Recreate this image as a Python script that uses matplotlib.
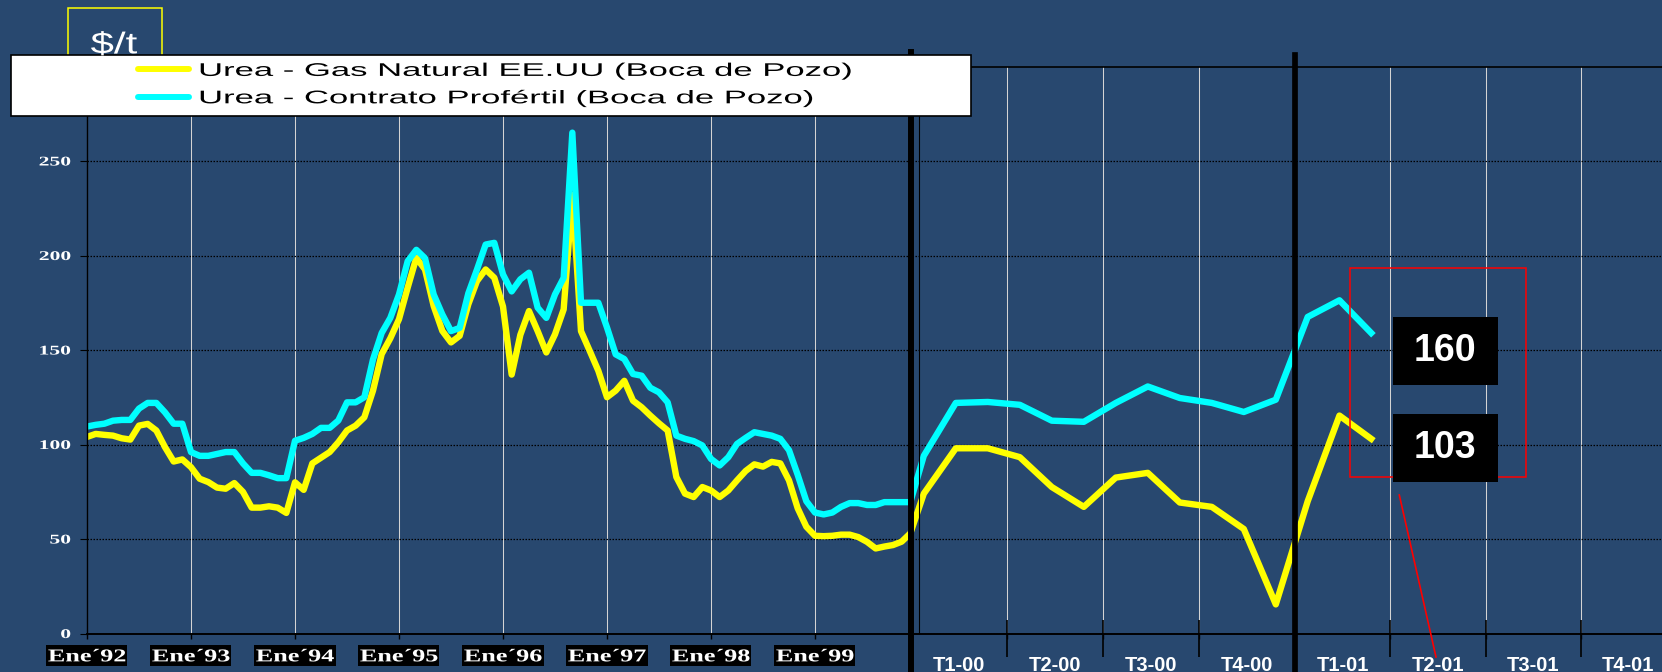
import numpy as np
import matplotlib
matplotlib.use("Agg")
import matplotlib.pyplot as plt
from matplotlib.patches import Rectangle
from matplotlib.patheffects import AbstractPathEffect
from matplotlib.transforms import Affine2D
from matplotlib.path import Path

W, H = 1662, 672

# monthly prices, $/t -- Ene'92 .. Dic'99
cyan_92_99 = [
    109.5, 110.4, 111, 112.6, 113, 113, 119, 122, 122, 117, 111, 111,
    96, 94, 94, 95, 96, 96, 90, 85, 85, 83.7, 82.2, 82.2,
    102, 103.5, 105.6, 108.8, 108.8, 112.7, 122.3, 122.3, 125, 145, 159, 167,
    179.4, 197, 203, 198.6, 179.4, 168.8, 160, 161.7, 180, 192.6, 205.8, 206.7,
    190, 181, 187.4, 190.9, 172.4, 167, 179.4, 188.2, 265, 175, 175, 175,
    161.9, 147.7, 145.2, 137.3, 136.4, 130, 127.6, 122.3, 104.7, 103, 101.8, 99.5,
    92.4, 88.9, 93.3, 100.3, 103.5, 106.5, 105.6, 104.7, 103, 97, 84, 70,
    64, 63, 64, 67, 69, 69, 68, 68, 69.5, 69.5, 69.5, 69.5]
yellow_92_99 = [
    104, 105.6, 105.1, 104.7, 103.3, 102.6, 110, 110.9, 107.4, 98.6, 91, 92.1,
    88, 81.9, 80.1, 77.2, 76.6, 79.6, 74.9, 66.6, 66.6, 67.3, 66.6, 63.8,
    80, 76, 90, 93, 96, 101.2, 107.4, 110, 114.4, 128.5, 147.8, 156.2,
    166.3, 183, 198.8, 192.6, 173.3, 160.1, 154, 157.5, 174.2, 186.5, 192.6, 188.2,
    173, 137, 158, 170.6, 160, 148.7, 158.3, 171.5, 232, 160, 149.6, 139,
    125, 128.5, 133.7, 123.2, 119.7, 115.3, 111.2, 107.4, 82.8, 74, 72.2, 77.5,
    75.7, 72.2, 75.7, 81, 86, 89.5, 88.3, 90.8, 90, 81, 66.3, 56.5,
    51.7, 51.5, 51.7, 52.3, 52.3, 51, 48.5, 45, 46, 46.8, 48.6, 53]

# 2000 and 2001, monthly
cyan_00 = [94, 122, 122.5, 121, 112.6, 112, 122, 130.7, 124.6, 122, 117.2, 123.7]
yellow_00 = [74, 98, 98, 93.3, 77.5, 67, 82.5, 85, 69.3, 67, 55.3, 15.4]
cyan_01 = [167.5, 176.3, 159]
yellow_01 = [70, 115.3, 103]

year_labels = ["Ene´92", "Ene´93", "Ene´94", "Ene´95",
               "Ene´96", "Ene´97", "Ene´98", "Ene´99"]
quarter_labels = ["T1-00", "T2-00", "T3-00", "T4-00",
                  "T1-01", "T2-01", "T3-01", "T4-01"]
last_labels = ["160", "103"]
legend_labels = ["Urea - Gas Natural EE.UU (Boca de Pozo)",
                 "Urea - Contrato Profértil (Boca de Pozo)"]

YELLOW = "#ffff00"
CYAN = "#00ffff"
BG = "#28486f"

plt.rcParams["font.family"] = ["Liberation Sans", "DejaVu Sans"]


class Stretch(AbstractPathEffect):
    # the slide text is stretched sideways, widen the glyphs the same way
    def __init__(self, sx, anchor="center", box=None, pad=(2, 4.3)):
        super().__init__()
        self.sx, self.anchor, self.box, self.pad = sx, anchor, box, pad

    def draw_path(self, renderer, gc, tpath, affine, rgbFace=None):
        bb = tpath.get_extents(affine)
        ox = {"left": bb.x0, "right": bb.x1,
              "center": (bb.x0 + bb.x1) / 2}[self.anchor]
        tr = affine + Affine2D().translate(-ox, 0).scale(self.sx, 1).translate(ox, 0)
        if self.box is not None:
            b2 = tpath.get_extents(tr)
            px, py = self.pad
            rt = Affine2D().scale(b2.width + 2 * px, b2.height + 2 * py) \
                .translate(b2.x0 - px, b2.y0 - py)
            gc0 = renderer.new_gc()
            gc0.copy_properties(gc)
            gc0.set_linewidth(0)
            renderer.draw_path(gc0, Path.unit_rectangle(), rt, self.box)
            gc0.restore()
        renderer.draw_path(gc, tpath, tr, rgbFace)


# x in months from Ene'92; each period gets its own width on the slide
brk_m = [-120, 0, 95, 96, 108, 120, 240]
brk_px = [87 - 120 * 104 / 12, 87, 87 + 95 * 104 / 12, 911, 1295, 1676,
          1676 + 120 * 381 / 12]


def fwd(m):
    return np.interp(m, brk_m, brk_px)


def inv(p):
    return np.interp(p, brk_px, brk_m)


x = np.concatenate([np.arange(len(cyan_92_99)),
                    96 + np.arange(len(cyan_00)) + 0.4,
                    108 + np.arange(len(cyan_01)) + 0.4])
cyan = np.concatenate([cyan_92_99, cyan_00, cyan_01])
yellow = np.concatenate([yellow_92_99, yellow_00, yellow_01])

fig = plt.figure(figsize=(W / 100, H / 100), dpi=100)
fig.patch.set_facecolor(BG)

ax = fig.add_axes([87 / W, (H - 633.5) / H, (W - 87) / W, 567 / H])
ax.set_facecolor("none")
ax.set_xscale("function", functions=(fwd, inv))
ax.set_xlim(0, inv(W))
ax.set_ylim(0, 300)

ax.plot(x, yellow, color=YELLOW, lw=4.6, zorder=2)
ax.plot(x, cyan, color=CYAN, lw=4.6, zorder=2.1)

# axes frame
ax.spines["right"].set_visible(False)
ax.spines["left"].set_linewidth(1)
ax.spines["bottom"].set_linewidth(1.4)
ax.spines["top"].set_linewidth(1.2)
for s in ax.spines.values():
    s.set_color("black")

# y axis
ax.set_yticks(np.arange(0, 251, 50))
ax.tick_params(axis="y", length=5, width=0.8, color="black", pad=6.7,
               labelsize=9.6, labelcolor="white")
for lab in ax.get_yticklabels():
    lab.set_fontfamily(["Liberation Serif", "DejaVu Serif"])
    lab.set_fontweight("bold")
    lab.set_path_effects([Stretch(1.62, "right")])
ax.yaxis.grid(True, color="black", lw=0.9, linestyle=(0, (1.2, 1.2)))

# x axis: years, then quarters
year_ticks = 12 * np.arange(len(year_labels))
q_bounds = np.array([99, 102, 105, 111, 114, 117])
q_centers = 96 + 1.5 + 3 * np.arange(len(quarter_labels))
ax.set_xticks(np.concatenate([year_ticks, q_bounds]),
              year_labels + [""] * len(q_bounds))
ax.set_xticks(q_centers, quarter_labels, minor=True)
ax.tick_params(axis="x", which="major", length=3.5, width=1, color="black",
               pad=7.2, labelsize=13, labelcolor="white")
ax.tick_params(axis="x", which="minor", length=0, pad=16.2,
               labelsize=14.5, labelcolor="white")
for lab in ax.get_xticklabels():
    lab.set_fontfamily(["Liberation Serif", "DejaVu Serif"])
    lab.set_fontweight("bold")
    lab.set_path_effects([Stretch(1.45, "center", box=(0, 0, 0))])
for lab in ax.get_xticklabels(minor=True):
    lab.set_fontweight("bold")
ax.xaxis.grid(True, which="major", color="#d4d4d4", lw=0.75)

# long quarter marks and the bars between periods
ax.vlines(q_bounds, -0.0414, 0.0238, transform=ax.get_xaxis_transform(),
          color="black", lw=1.2, clip_on=False)
ax.axvline(95.5, -0.068, 1.026, color="black", lw=4.3, clip_on=False, zorder=4)
ax.axvline(108, -0.068, 1.02, color="black", lw=4.1, clip_on=False, zorder=4)
ax.axvline(96.26, color="black", lw=0.8, zorder=4)

# overlay in pixel units for legend and callouts
ov = fig.add_axes([0, 0, 1, 1], zorder=3)
ov.set_xlim(0, W)
ov.set_ylim(H, 0)
ov.axis("off")
ov.patch.set_visible(False)

ov.add_patch(Rectangle((68.3, 8.3), 94, 60, fill=False, ec=YELLOW, lw=1.1))
ov.text(90.7, 53.3, "$/t", color="white", fontsize=21.6, ha="left",
        va="baseline", path_effects=[Stretch(1.4, "left")])

ov.add_patch(Rectangle((10.7, 55), 960.3, 60.7, fc="white", ec="black", lw=1.2))
for y, c, lab in zip([69.3, 96.7], [YELLOW, CYAN], legend_labels):
    ov.plot([138, 189], [y, y], color=c, lw=4.3, solid_capstyle="round")
    ov.text(199.3, y + 6.6, lab, color="black", fontsize=13.2, ha="left",
            va="baseline", path_effects=[Stretch(1.89, "left")])

ov.add_patch(Rectangle((1349.7, 267.7), 176.3, 209.6, fill=False, ec="red", lw=1.1))
ov.plot([1399.3, 1436], [495, 657], color="red", lw=1.2)
for y0, lab in zip([317.3, 414.3], last_labels):
    ov.add_patch(Rectangle((1392.7, y0), 105, 68, fc="black", ec="none"))
    ov.text(1445.2, y0 + 34, lab, color="white", fontsize=27,
            fontweight="bold", ha="center", va="center")

fig.savefig("out.png", dpi=100, facecolor=fig.get_facecolor())
